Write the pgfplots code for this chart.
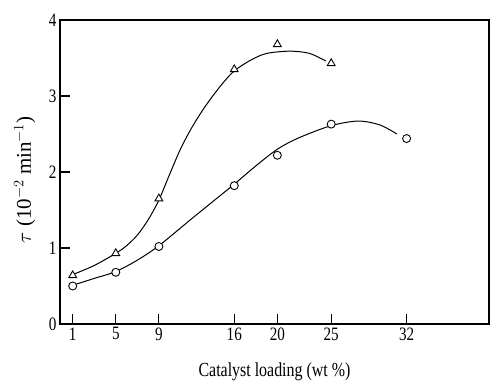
\documentclass[border=0pt]{standalone}
\usepackage{fontspec}
\setmainfont{Liberation Serif}[FakeStretch=0.8]
\newfontfamily\ylabfont{Liberation Serif}
\usepackage{pgfplots}
\pgfplotsset{compat=1.18}
\begin{document}
\begin{tikzpicture}
\begin{axis}[
  name=ax,
  scale only axis,
  width=429bp, height=304bp,
  xmin=-0.18, xmax=39.65,
  ymin=0, ymax=4,
  xtick={1,5,9,16,20,25,32},
  ytick={0,1,2,3,4},
  xtick pos=left, ytick pos=left,
  tick align=inside,
  major tick length=10bp,
  axis line style={line width=1.3bp},
  every tick/.style={black, line width=1.1bp},
  /pgf/number format/assume math mode=true,
  tick label style={font=\fontsize{19}{22}\selectfont},
  xlabel={Catalyst loading (wt \%)},
  ylabel={{\ylabfont $\tau$ (10$^{-2}$ min$^{-1}$)}},
  xlabel style={at={(axis description cs:0.5,-0.158)}, anchor=center, font=\fontsize{20}{24}\selectfont},
  ylabel style={at={(axis description cs:-0.082,0.474)}, anchor=center, font=\fontsize{21}{24}\selectfont},
  clip=false,
]
% triangle curve
\addplot[black, line width=1bp, smooth, no marks] coordinates {
 (1,0.65) (3,0.77) (5,0.93) (6,1.03) (7,1.17) (8,1.37) (9,1.63) (10,1.97) (11,2.3) (12,2.57)
 (13,2.8) (14,3.0) (15,3.18) (16,3.33) (17.5,3.47) (19,3.56) (21.2,3.59) (23,3.56) (24.5,3.46)
};
% circle curve
\addplot[black, line width=1bp, smooth, no marks] coordinates {
 (1,0.51) (3,0.6) (5,0.69) (7,0.84) (9,1.03) (12,1.38) (14,1.61) (16,1.84)
 (18,2.08) (20,2.3) (22,2.45) (25,2.61) (27.5,2.67) (29.5,2.62) (31.1,2.5)
};
% triangle markers
\addplot[only marks, mark=triangle*, mark size=4.5bp, mark options={fill=white, draw=black, line width=0.9bp}] coordinates {
 (1,0.64) (5,0.93) (9,1.65) (16,3.35) (20,3.68) (25,3.43)
};
% circle markers
\addplot[only marks, mark=*, mark size=4bp, mark options={fill=white, draw=black, line width=0.9bp}] coordinates {
 (1,0.5) (5,0.68) (9,1.02) (16,1.82) (20,2.22) (25,2.63) (32,2.44)
};
\end{axis}
\pgfresetboundingbox
\path (-60bp,-59bp) rectangle (430bp,324bp);
\end{tikzpicture}
\end{document}
